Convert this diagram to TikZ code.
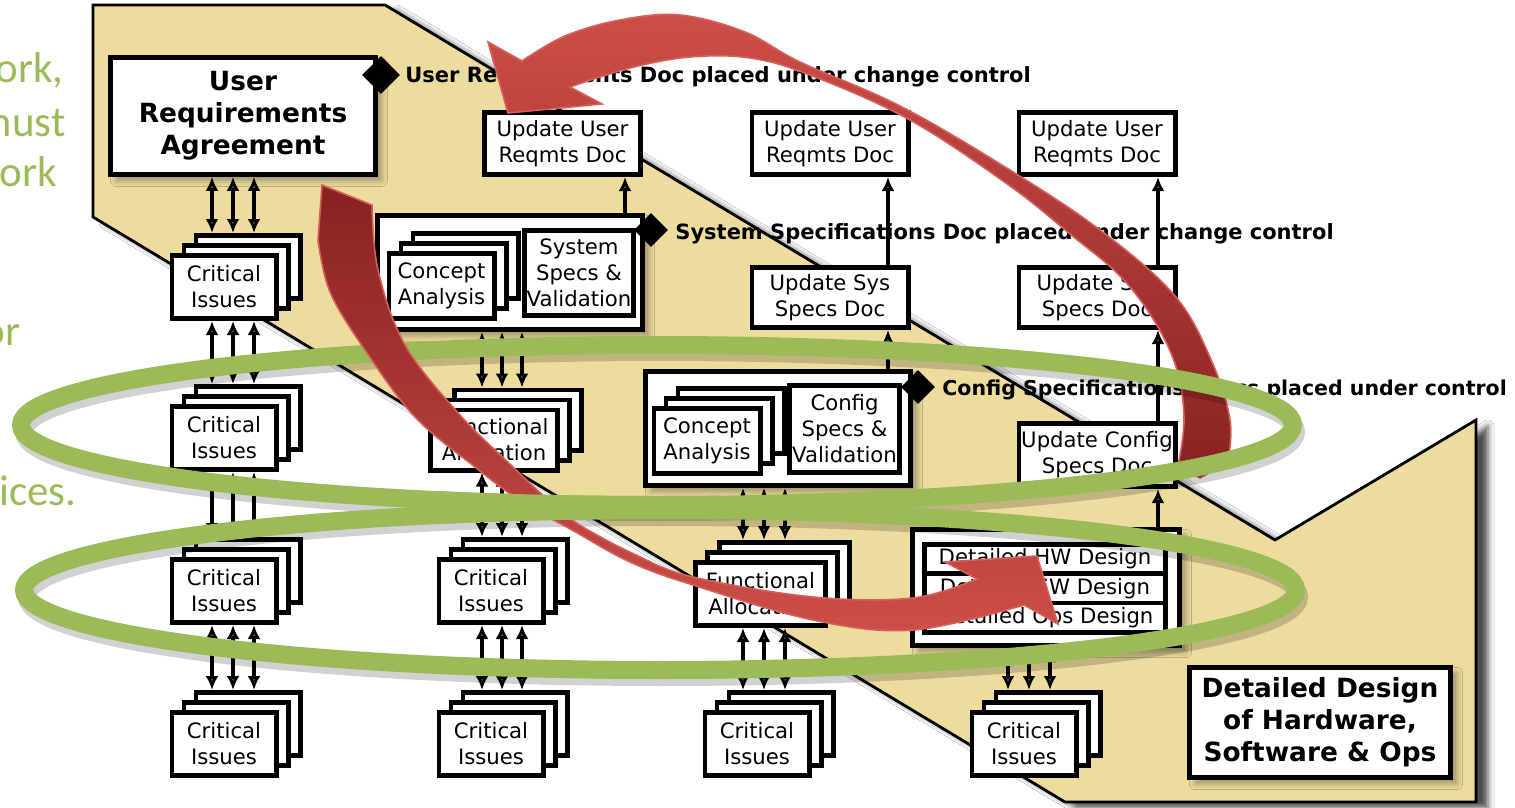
\documentclass[tikz,border=0pt]{standalone}
\usepackage{fontspec}
\setmainfont{DejaVu Sans}
\newfontfamily\sidefont{Carlito}
\usetikzlibrary{shapes.geometric,arrows.meta,shadows.blur}

\definecolor{bandtan}{RGB}{237,220,158}
\definecolor{olive}{RGB}{155,187,89}
\definecolor{redL}{RGB}{205,78,72}
\definecolor{redD}{RGB}{135,34,34}
\definecolor{redE}{RGB}{215,95,90}

\newcommand\boxfont{\fontsize{10.6}{13}\selectfont}
\newcommand\bigfont{\fontsize{13.2}{16}\selectfont\bfseries}
\newcommand\labelfont{\fontsize{10.5}{13}\selectfont\bfseries}
\newcommand\sidetext{\sidefont\fontsize{21.5}{26}\selectfont}

\tikzset{
  card/.style={draw, line width=2.3pt, fill=white, inner sep=0pt, align=center, font=\boxfont},
  panel/.style={card, blur shadow={shadow xshift=3pt, shadow yshift=-3pt, shadow blur radius=3pt, shadow opacity=35}},
  gem/.style={diamond, fill=black, inner sep=0pt},
  note/.style={anchor=base west, font=\labelfont, inner sep=0pt},
  oneway/.style={line width=1.8pt, -{Latex[length=7pt,width=6.5pt]}},
  twoway/.style={line width=1.8pt, {Latex[length=7pt,width=6.5pt]}-{Latex[length=7pt,width=6.5pt]}},
  ring/.style={draw=olive, line width=9pt},
  ringshade/.style={draw=black, opacity=0.18, line width=9pt},
  side/.style={anchor=base east, text=olive, font=\sidetext, inner sep=0pt},
}

% three overlapping cards: back, middle, front (front carries the text)
\newcommand\cardstack[6]{%
  \node[card, minimum width=#4, minimum height=#5] (#1-b) at ({#2+24},{#3-20}) {};
  \node[card, minimum width=#4, minimum height=#5] (#1-m) at ({#2+12},{#3-10}) {};
  \node[card, minimum width=#4, minimum height=#5] (#1) at (#2,#3) {#6};
}
% three parallel two-way arrows from a box down to the next stack
\newcommand\triple[5]{%
  \foreach \xx in {#3,#4,#5}
    \draw[twoway] (#1.south -| \xx,0) -- (#2-b.north -| \xx,0);
}

\begin{document}
\begin{tikzpicture}[x=0.5pt,y=-0.5pt]
\useasboundingbox (0,0) rectangle (1515,808);
\clip (0,0) rectangle (1515,808);
\fill[white] (0,0) rectangle (1515,808);

% side text in green
\node[side] (g1) at (64,83) {work,};
\node[side] (g2) at (66,137) {must};
\node[side] (g3) at (57,186) {work};
\node[side] (g4) at (21,345) {for};
\node[side] (g5) at (77,505) {services.};

% the tan phase band
\filldraw[fill=bandtan, draw=black, line width=1.4pt,
  blur shadow={shadow xshift=6pt, shadow yshift=-3pt, shadow blur radius=3pt, shadow opacity=70}]
  (93,5) -- (385,5) -- (1275,540) -- (1476,420) -- (1476,802) -- (1065,802) -- (93,217) -- cycle;

% ---------- column 1
\node[panel, minimum width=132.5pt, minimum height=58.5pt, font=\bigfont] (ura) at (243,116) {User\\Requirements\\Agreement};
\node[gem, minimum width=19pt, minimum height=19pt] (d1) at (381,75) {};
\node[note] (l1) at (405,83) {User Requirements Doc placed under change control};
\cardstack{ci11}{224}{287}{52.2pt}{31.7pt}{Critical\\Issues}
\cardstack{ci12}{224}{438}{52.2pt}{31.7pt}{Critical\\Issues}
\cardstack{ci13}{224}{591}{52.2pt}{31.7pt}{Critical\\Issues}
\cardstack{ci14}{224}{744}{52.2pt}{31.7pt}{Critical\\Issues}
\triple{ura}{ci11}{212}{233}{254}
\triple{ci11}{ci12}{212}{233}{254}
\triple{ci12}{ci13}{212}{233}{254}
\triple{ci13}{ci14}{212}{233}{254}

% ---------- column 2
\node[card, minimum width=78.2pt, minimum height=31.2pt] (uu2) at (562.5,143.5) {Update User\\Reqmts Doc};
\node[panel, minimum width=132.7pt, minimum height=57.2pt] (sys) at (510,272.5) {};
\cardstack{ca1}{441.5}{286}{52.7pt}{32.7pt}{Concept\\Analysis}
\node[card, minimum width=54.7pt, minimum height=42.7pt] (ssv) at (579,273) {System\\Specs \&\\Validation};
\node[gem, minimum width=17pt, minimum height=17pt] (d2) at (651,230) {};
\node[note] (l2) at (675,239) {System Specifications Doc placed under change control};
\draw[oneway] (sys.north -| 625,0) -- (uu2.south -| 625,0);
\cardstack{fa2}{494}{440}{63.7pt}{30.2pt}{Functional\\Allocation}
\cardstack{ci23}{491}{591}{52.2pt}{31.7pt}{Critical\\Issues}
\cardstack{ci24}{491}{744}{52.2pt}{31.7pt}{Critical\\Issues}
\triple{sys}{fa2}{482}{502}{522}
\triple{fa2}{ci23}{482}{502}{522}
\triple{ci23}{ci24}{482}{502}{522}

% ---------- column 3
\node[card, minimum width=78.2pt, minimum height=31.2pt] (uu3) at (830,143.5) {Update User\\Reqmts Doc};
\node[card, minimum width=78.2pt, minimum height=30.2pt] (us3) at (830,297.5) {Update Sys\\Specs Doc};
\node[panel, minimum width=132.7pt, minimum height=57.2pt] (cfg) at (778,428.5) {};
\cardstack{ca2}{707}{441}{53.2pt}{32.7pt}{Concept\\Analysis}
\node[card, minimum width=55.2pt, minimum height=43.7pt] (csv) at (844.5,429) {Config\\Specs \&\\Validation};
\node[gem, minimum width=17pt, minimum height=17pt] (d3) at (918,387) {};
\node[note, font=\fontsize{10.25}{13}\selectfont\bfseries] (l3) at (942,395) {Config Specifications Specs placed under control};
\draw[oneway] (cfg.north -| 888,0) -- (us3.south -| 888,0);
\draw[oneway] (us3.north -| 888,0) -- (uu3.south -| 888,0);
\cardstack{fa3}{760.5}{594}{65.2pt}{31.7pt}{Functional\\Allocation}
\cardstack{ci34}{757}{744}{52.2pt}{31.7pt}{Critical\\Issues}
\triple{cfg}{fa3}{743}{764}{785}
\triple{fa3}{ci34}{743}{764}{785}

% ---------- column 4
\node[card, minimum width=78.2pt, minimum height=31.2pt] (uu4) at (1097,143.5) {Update User\\Reqmts Doc};
\node[card, minimum width=78.2pt, minimum height=30.2pt] (us4) at (1097,297.5) {Update Sys\\Specs Doc};
\node[card, minimum width=78.2pt, minimum height=31.7pt] (uc4) at (1097,455) {Update Config\\Specs Doc};
\node[panel, minimum width=133.7pt, minimum height=58.2pt] (dd) at (1046,587.5) {};
\node[card, minimum width=120.7pt, minimum height=14.7pt] (hw) at (1045,559) {Detailed HW Design};
\node[card, minimum width=120.7pt, minimum height=14.7pt] (sw) at (1045,588.4) {Detailed SW Design};
\node[card, minimum width=120.7pt, minimum height=14.7pt] (ops) at (1045,617.8) {Detailed Ops Design};
\draw[oneway] (dd.north -| 1158,0) -- (uc4.south -| 1158,0);
\draw[oneway] (uc4.north -| 1158,0) -- (us4.south -| 1158,0);
\draw[oneway] (us4.north -| 1158,0) -- (uu4.south -| 1158,0);
\cardstack{ci44}{1024}{744}{52.2pt}{31.7pt}{Critical\\Issues}
\triple{dd}{ci44}{1008}{1029}{1050}
\node[panel, minimum width=130.7pt, minimum height=55.2pt, font=\bigfont] (final) at (1320,722.5) {Detailed Design\\of Hardware,\\Software \& Ops};

% ---------- feedback arrow sweeping back to the user requirements
\shadedraw[top color=redL, bottom color=redD, draw=redE, line width=0.8pt]
  (508,113) -- (488,42) -- plot[smooth, tension=0.6] coordinates {(522,61) (565,36) (620,20) (680,15) (745,32) (800,62) (900,106) (1005,167) (1100,230) (1175,296) (1212,362) (1230,420) (1228,462)}
  -- (1200,478) -- plot[smooth, tension=0.6] coordinates {(1178,466) (1184,420) (1177,370) (1155,322) (1120,276) (1070,234) (1010,186) (910,120) (810,75) (750,58) (690,57) (630,68) (570,87)}
  -- (602,104) -- cycle;

% ---------- green rings
\draw[ringshade] (660,432) ellipse [x radius=636, y radius=80];
\draw[ringshade] (663,597) ellipse [x radius=636, y radius=80];
\draw[ring] (657,425) ellipse [x radius=636, y radius=80];
\draw[ring] (660,590) ellipse [x radius=636, y radius=80];

% ---------- forward arrow from the agreement down to detailed design
\shadedraw[top color=redD, bottom color=redL, draw=redE, line width=0.8pt]
  (1037,556) -- (945,562) -- plot[smooth, tension=0.6] coordinates {(977,579) (913,598) (813,597) (693,577) (636,555) (578,524) (548,500) (513,467) (460,415) (405,345) (378,270) (372,205)}
  -- (322,185) -- plot[smooth, tension=0.6] coordinates {(318,240) (330,292) (365,350) (415,417) (475,467) (522,502) (572,530) (630,562) (693,585) (813,620) (913,630) (1024,605)}
  -- (1058,624) -- cycle;

% rings pass over the forward arrow where it dips inside them
\begin{scope}
  \clip (440,462) rectangle (720,560);
  \draw[ring] (657,425) ellipse [x radius=636, y radius=80];
  \draw[ring] (660,590) ellipse [x radius=636, y radius=80];
\end{scope}
\end{tikzpicture}
\end{document}
